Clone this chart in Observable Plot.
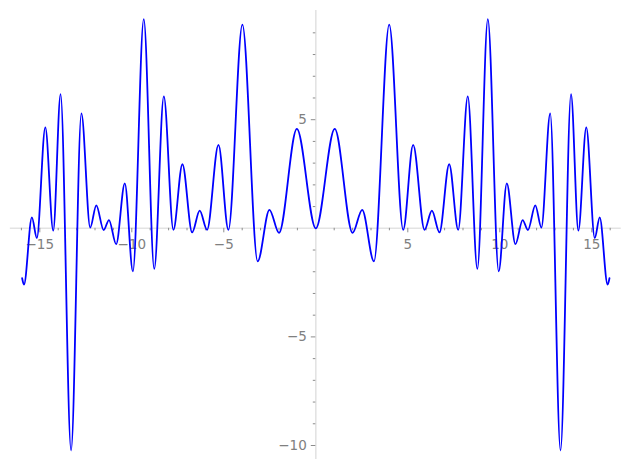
<!DOCTYPE html>
<html>
<head>
<meta charset="utf-8">
<script src="https://cdn.jsdelivr.net/npm/d3@7"></script>
<script src="https://cdn.jsdelivr.net/npm/@observablehq/plot@0.6"></script>
<style>
html, body { margin: 0; padding: 0; background: #fff; }
svg { display: block; }
</style>
</head>
<body>
<div id="chart"></div>
<script>
// Curve samples (local extrema + end points)
const curveX = [
  -15.96, -15.86, -15.43, -15.16, -14.70, -14.27, -13.87, -13.30, -12.74, -12.26,
  -11.93, -11.53, -11.24, -10.85, -10.38, -9.94, -9.35, -8.78, -8.26, -7.74,
  -7.25, -6.72, -6.31, -5.91, -5.29, -4.75, -3.99, -3.16, -2.52, -2.00,
  -1.03, 0,
  1.03, 2.00, 2.52, 3.16, 3.99, 4.75, 5.29, 5.91, 6.31, 6.72,
  7.25, 7.74, 8.26, 8.78, 9.35, 9.94, 10.38, 10.85, 11.24, 11.53,
  11.93, 12.26, 12.74, 13.30, 13.87, 14.27, 14.70, 15.16, 15.43, 15.86, 15.96
];
const curveY = [
  -2.30, -2.59, 0.50, -0.45, 4.65, -0.11, 6.18, -10.23, 5.29, 0.03,
  1.06, -0.08, 0.38, -0.73, 2.07, -1.98, 9.63, -1.87, 6.07, -0.07,
  2.95, -0.19, 0.81, -0.07, 3.84, -0.07, 9.38, -1.52, 0.85, -0.21,
  4.58, 0,
  4.58, -0.21, 0.85, -1.52, 9.38, -0.07, 3.84, -0.07, 0.81, -0.19,
  2.95, -0.07, 6.07, -1.87, 9.63, -1.98, 2.07, -0.73, 0.38, -0.08,
  1.06, 0.03, 5.29, -10.23, 6.18, -0.11, 4.65, -0.45, 0.50, -2.59, -2.30
];

const xMajorTicks = [-15, -10, -5, 5, 10, 15];
const xMinorTicks = [-16, -14, -13, -12, -11, -9, -8, -7, -6, -4, -3, -2, -1,
                     1, 2, 3, 4, 6, 7, 8, 9, 11, 12, 13, 14, 16];
const yMajorTicks = [-10, -5, 5];
const yMinorTicks = [-9, -8, -7, -6, -4, -3, -2, -1, 1, 2, 3, 4, 6, 7, 8, 9];

// Layout
const xDomain = [-16, 16], xRange = [20.9, 609.7];
const yDomain = [-10, 10], yRange = [445, 10.6];
const xAxisSpan = [-16.6, 16.6];
const yAxisSpan = [-10.64, 10.03];
const kx = (xRange[1] - xRange[0]) / (xDomain[1] - xDomain[0]);
const ky = (yRange[0] - yRange[1]) / (yDomain[1] - yDomain[0]);
const majorLen = 4.5, minorLen = 2.5;

const data = curveX.map((x, i) => ({x, y: curveY[i]}));
const fmt = d3.format("");

const axisColor = "#e3e3e3", tickColor = "#8c8c8c", labelColor = "#808080";

const chart = Plot.plot({
  width: 630,
  height: 470,
  margin: 0,
  x: {domain: xDomain, range: xRange, axis: null},
  y: {domain: yDomain, range: yRange, axis: null},
  style: {fontFamily: "DejaVu Sans", background: "white", overflow: "visible"},
  marks: [
    Plot.ruleY([0], {x1: xAxisSpan[0], x2: xAxisSpan[1], stroke: axisColor, strokeWidth: 1.6}),
    Plot.ruleX([0], {y1: yAxisSpan[0], y2: yAxisSpan[1], stroke: axisColor, strokeWidth: 1.6}),
    Plot.ruleX(xMinorTicks, {x: d => d, y1: 0, y2: -minorLen / ky, stroke: tickColor, strokeWidth: 1}),
    Plot.ruleX(xMajorTicks, {x: d => d, y1: 0, y2: -majorLen / ky, stroke: tickColor, strokeWidth: 1}),
    Plot.ruleY(yMinorTicks, {y: d => d, x1: 0, x2: -minorLen / kx, stroke: tickColor, strokeWidth: 1}),
    Plot.ruleY(yMajorTicks, {y: d => d, x1: 0, x2: -majorLen / kx, stroke: tickColor, strokeWidth: 1}),
    Plot.text(xMajorTicks, {x: d => d, y: 0, text: d => fmt(d), dy: 16, fill: labelColor, fontSize: 13.5}),
    Plot.text(yMajorTicks, {x: 0, y: d => d, text: d => fmt(d), dx: -9, textAnchor: "end", fill: labelColor, fontSize: 13.5}),
    Plot.line(data, {x: "x", y: "y", curve: "monotone-x", stroke: "#0000ff", strokeWidth: 1.8})
  ]
});
document.getElementById("chart").appendChild(chart);
</script>
</body>
</html>
